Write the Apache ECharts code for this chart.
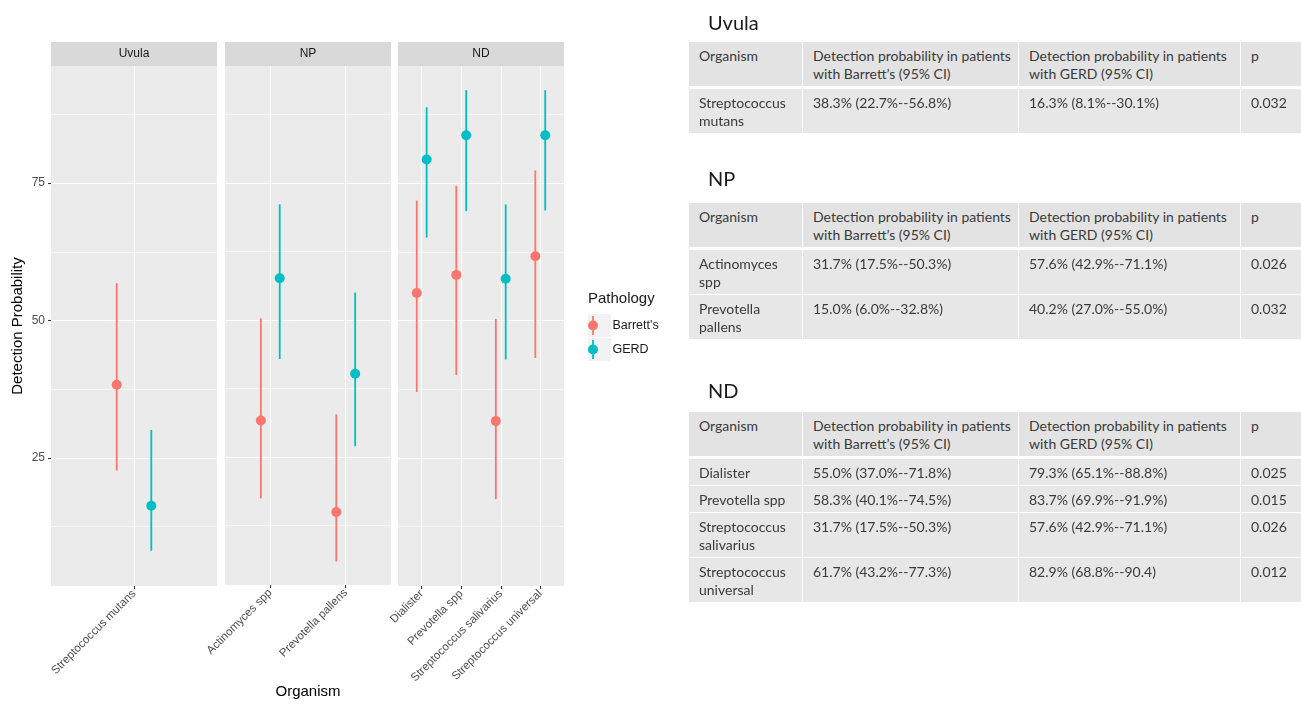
<!DOCTYPE html>
<html><head><meta charset="utf-8">
<script src="https://cdn.jsdelivr.net/npm/echarts@6/dist/echarts.min.js"></script>
<style>
html,body{margin:0;padding:0;background:#fff;}
#chart{position:absolute;left:0;top:0;width:1301px;height:704px;}
.ttitle{position:absolute;left:708px;font-family:Lato,'Open Sans',sans-serif;font-size:20px;color:#1a1a1a;line-height:24px;}
table.tbl{position:absolute;left:689px;width:612px;border-collapse:separate;border-spacing:0;table-layout:fixed;font-family:Lato,'Open Sans',sans-serif;font-size:14px;color:#3a3a3a;}
.tbl td{padding:5px 10px 3px 10px;line-height:18px;vertical-align:top;white-space:nowrap;border-right:1px solid #fff;border-bottom:1px solid #fff;background:#E7E7E7;overflow:hidden;}
.tbl td:last-child{border-right:none;}
.tbl tr.hd td{background:#E3E3E3;border-bottom:3px solid #fff;}
</style></head>
<body>
<div id="chart"></div>
<div id="tables"></div>
<script>
// ---------- data ----------
const facetNames = ['Uvula', 'NP', 'ND'];
const organisms = ['Streptococcus mutans', 'Actinomyces spp', 'Prevotella pallens', 'Dialister', 'Prevotella spp', 'Streptococcus salivarius', 'Streptococcus universal'];
const organismFacet = ['Uvula', 'NP', 'NP', 'ND', 'ND', 'ND', 'ND'];
const pathologies = ["Barrett's", 'GERD'];
const barrettMean = [38.3, 31.7, 15.0, 55.0, 58.3, 31.7, 61.7];
const barrettLow  = [22.7, 17.5, 6.0, 37.0, 40.1, 17.5, 43.2];
const barrettHigh = [56.8, 50.3, 32.8, 71.8, 74.5, 50.3, 77.3];
const gerdMean = [16.3, 57.6, 40.2, 79.3, 83.7, 57.6, 83.7];
const gerdLow  = [8.1, 42.9, 27.0, 65.1, 69.9, 42.9, 70.0];
const gerdHigh = [30.1, 71.1, 55.0, 88.8, 91.9, 71.1, 91.9];
const yTicks = [25, 50, 75];
const yMinorTicks = [12.5, 37.5, 62.5, 87.5];

// table text
const tableHeader = ['Organism', 'Detection probability in patients\nwith Barrett\u2019s (95% CI)', 'Detection probability in patients\nwith GERD (95% CI)', 'p'];
const tableOrganism = ['Streptococcus\nmutans', 'Actinomyces\nspp', 'Prevotella\npallens', 'Dialister', 'Prevotella spp', 'Streptococcus\nsalivarius', 'Streptococcus\nuniversal'];
const tableBarrett = ['38.3% (22.7%--56.8%)', '31.7% (17.5%--50.3%)', '15.0% (6.0%--32.8%)', '55.0% (37.0%--71.8%)', '58.3% (40.1%--74.5%)', '31.7% (17.5%--50.3%)', '61.7% (43.2%--77.3%)'];
const tableGerd = ['16.3% (8.1%--30.1%)', '57.6% (42.9%--71.1%)', '40.2% (27.0%--55.0%)', '79.3% (65.1%--88.8%)', '83.7% (69.9%--91.9%)', '57.6% (42.9%--71.1%)', '82.9% (68.8%--90.4)'];
const tableP = ['0.032', '0.026', '0.032', '0.025', '0.015', '0.026', '0.012'];

// ---------- layout ----------
const colors = ['#F8766D', '#00BFC4'];
const panelLeft = [51, 225, 398];
const panelW = 166, panelTop = 66, panelH = 520, stripH = 24;
const dodge = 0.125;
const tableTops = [42, 203, 412];
const titleTops = [10, 166, 378];
const FONT = "'Liberation Sans', Arial, sans-serif";

const grids = [], xAxes = [], yAxes = [], series = [], graphics = [];
const stats = [[barrettMean, barrettLow, barrettHigh], [gerdMean, gerdLow, gerdHigh]];

facetNames.forEach((f, i) => {
  const idx = organisms.map((o, k) => k).filter(k => organismFacet[k] === f);
  const names = idx.map(k => organisms[k]);
  const n = names.length;
  const pos = names.map((_, j) => j);
  grids.push({left: panelLeft[i], top: panelTop, width: panelW, height: panelH, show: true,
    backgroundColor: '#EBEBEB', borderWidth: 0});
  xAxes.push({type: 'value', gridIndex: i, min: -0.6, max: n - 0.4, position: 'bottom',
    axisLine: {show: false, onZero: false},
    axisTick: {show: true, customValues: pos, length: 3, lineStyle: {color: '#333333', width: 1.1}},
    axisLabel: {customValues: pos, formatter: v => names[Math.round(v)] || '', rotate: 45,
      fontSize: 11.5, color: '#4D4D4D', margin: 6, fontFamily: FONT},
    splitLine: {show: true, lineStyle: {color: '#FFFFFF', width: 1.1}},
    name: i === 1 ? 'Organism' : '', nameLocation: 'middle', nameGap: 99,
    nameTextStyle: {fontSize: 15, color: '#000', fontFamily: FONT}
  });
  yAxes.push({type: 'value', gridIndex: i, min: 1.7, max: 96.3, position: 'left',
    axisLine: {show: false, onZero: false},
    axisTick: {show: i === 0, customValues: yTicks, length: 3, lineStyle: {color: '#333333', width: 1.1}},
    axisLabel: {show: i === 0, customValues: yTicks, fontSize: 12, color: '#4D4D4D', margin: 6, fontFamily: FONT},
    splitLine: {show: true, lineStyle: {color: '#FFFFFF', width: 1.1}},
    name: i === 0 ? 'Detection Probability' : '', nameLocation: 'middle', nameGap: 26,
    nameTextStyle: {fontSize: 15, color: '#000', fontFamily: FONT}
  });
  pathologies.forEach((p, pi) => {
    const off = pi === 0 ? -dodge : dodge;
    const [m, lo, hi] = stats[pi];
    series.push({type: 'scatter', name: p, xAxisIndex: i, yAxisIndex: i, symbolSize: 10, z: 4,
      itemStyle: {color: colors[pi], opacity: 1},
      data: idx.map((k, j) => [j + off, m[k]])});
    series.push({type: 'custom', name: p, xAxisIndex: i, yAxisIndex: i, z: 3, silent: true,
      itemStyle: {color: colors[pi]}, encode: {x: 0, y: [1, 2]},
      data: idx.map((k, j) => [j + off, lo[k], hi[k]]),
      renderItem: (params, api) => {
        const a = api.coord([api.value(0), api.value(1)]);
        const b = api.coord([api.value(0), api.value(2)]);
        return {type: 'line', shape: {x1: a[0], y1: a[1], x2: b[0], y2: b[1]},
          style: {stroke: colors[pi], lineWidth: 1.8}};
      }});
  });
  graphics.push({type: 'rect', shape: {x: panelLeft[i], y: panelTop - stripH, width: panelW, height: stripH},
    style: {fill: '#D9D9D9'}, z: 0});
  graphics.push({type: 'text', x: panelLeft[i] + panelW / 2, y: panelTop - stripH / 2,
    style: {text: f, align: 'center', verticalAlign: 'middle', fontSize: 12, fill: '#1A1A1A', fontFamily: FONT}, z: 1});
});
facetNames.forEach((f, i) => {
  yAxes.push({type: 'value', gridIndex: i, min: 1.7, max: 96.3, position: 'left',
    axisLine: {show: false, onZero: false}, axisTick: {show: false, customValues: yMinorTicks}, axisLabel: {show: false},
    splitLine: {show: true, lineStyle: {color: '#FFFFFF', width: 0.5}}});
});
// legend key backgrounds
graphics.push({type: 'rect', shape: {x: 588, y: 314, width: 23, height: 23}, style: {fill: '#F2F2F2'}, z: 0});
graphics.push({type: 'rect', shape: {x: 588, y: 338, width: 23, height: 23}, style: {fill: '#F2F2F2'}, z: 0});

const keyIcon = 'path://M-0.9,-9.5L0.9,-9.5L0.9,9.5L-0.9,9.5Z M5,0A5,5,0,1,1,-5,0A5,5,0,1,1,5,0Z';

const chart = echarts.init(document.getElementById('chart'), null, {renderer: 'canvas'});
chart.setOption({
  animation: false,
  textStyle: {fontFamily: FONT},
  title: {text: 'Pathology', left: 588, top: 291, padding: 0,
    textStyle: {fontSize: 15, fontWeight: 'normal', color: '#1A1A1A', fontFamily: FONT}},
  legend: {data: pathologies.map(p => ({name: p, icon: keyIcon})), orient: 'vertical', left: 588, top: 316,
    itemWidth: 23, itemHeight: 19, itemGap: 5, padding: 0, symbolKeepAspect: true, selectedMode: false,
    textStyle: {fontSize: 12.5, color: '#1A1A1A', padding: [0, 0, 0, 3], fontFamily: FONT}},
  grid: grids, xAxis: xAxes, yAxis: yAxes, series: series,
  graphic: graphics
});

// ---------- tables ----------
const wrap = document.getElementById('tables');
const esc = s => s.replace(/&/g, '&amp;').replace(/</g, '&lt;').replace(/\n/g, '<br>');
facetNames.forEach((f, i) => {
  const t = document.createElement('div');
  t.className = 'ttitle'; t.style.top = titleTops[i] + 'px'; t.textContent = f;
  wrap.appendChild(t);
  let html = '<colgroup><col style="width:114px"><col style="width:216px"><col style="width:222px"><col style="width:60px"></colgroup>';
  html += '<tr class="hd">' + tableHeader.map(h => '<td>' + esc(h) + '</td>').join('') + '</tr>';
  organisms.forEach((o, k) => {
    if (organismFacet[k] !== f) return;
    html += '<tr><td>' + esc(tableOrganism[k]) + '</td><td>' + esc(tableBarrett[k]) + '</td><td>' + esc(tableGerd[k]) + '</td><td>' + esc(tableP[k]) + '</td></tr>';
  });
  const tb = document.createElement('table');
  tb.className = 'tbl'; tb.style.top = tableTops[i] + 'px'; tb.innerHTML = html;
  wrap.appendChild(tb);
});
</script>
</body></html>
